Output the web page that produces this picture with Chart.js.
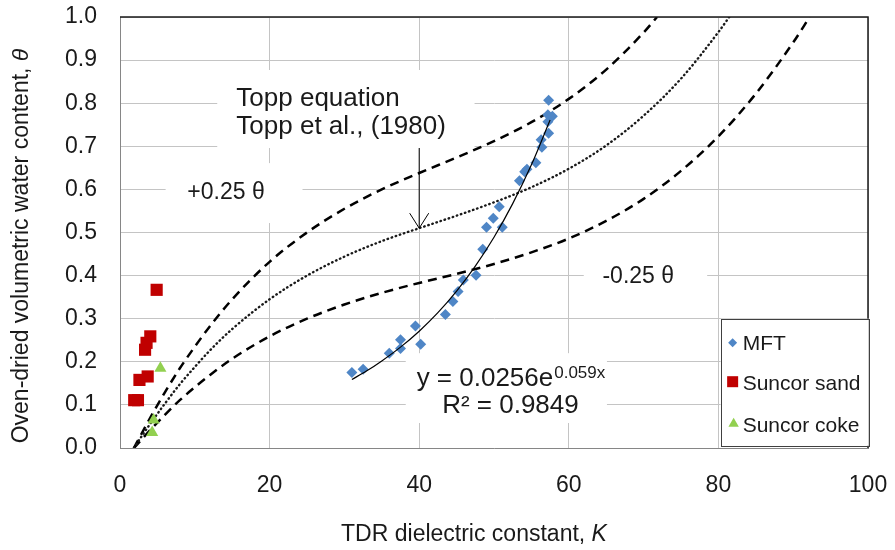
<!DOCTYPE html>
<html>
<head>
<meta charset="utf-8">
<script src="https://cdn.jsdelivr.net/npm/chart.js@4.4.1/dist/chart.umd.min.js"></script>
<style>
html,body{margin:0;padding:0;background:#fff;}
#wrap{width:895px;height:550px;position:relative;}
</style>
</head>
<body>
<div id="wrap"><canvas id="c" width="895" height="550"></canvas></div>
<script>
// ---------- data ----------
const xTickValues = [0, 20, 40, 60, 80, 100];
const xTickLabels = ['0', '20', '40', '60', '80', '100'];
const yTickValues = [0, 0.1, 0.2, 0.3, 0.4, 0.5, 0.6, 0.7, 0.8, 0.9, 1.0];
const yTickLabels = ['0.0', '0.1', '0.2', '0.3', '0.4', '0.5', '0.6', '0.7', '0.8', '0.9', '1.0'];

const seriesNames = ['MFT', 'Suncor sand', 'Suncor coke'];

const mftK     = [31.0, 32.5, 36.0, 37.5, 37.5, 39.5, 40.2, 43.5, 44.5, 45.2, 45.9, 47.6, 48.5, 49.0, 51.1, 49.9, 50.7, 53.4, 54.1, 54.4, 55.6, 56.4, 56.3, 57.3, 57.2, 57.2, 57.8, 57.3];
const mftTheta = [0.175, 0.183, 0.220, 0.231, 0.251, 0.283, 0.241, 0.310, 0.340, 0.363, 0.390, 0.401, 0.461, 0.512, 0.512, 0.533, 0.560, 0.620, 0.641, 0.647, 0.662, 0.698, 0.715, 0.730, 0.757, 0.773, 0.770, 0.807];

const sandK     = [1.9, 2.4, 2.6, 3.7, 3.35, 3.55, 4.05, 4.9];
const sandTheta = [0.111, 0.111, 0.158, 0.166, 0.228, 0.244, 0.259, 0.367];

const cokeK     = [4.3, 4.5, 5.4];
const cokeTheta = [0.036, 0.065, 0.185];

// Topp equation curve (dotted)
const toppK     = [1.86, 3, 4, 6, 8, 10, 12, 15, 20, 25, 30, 35, 40, 45, 50, 55, 60, 65, 70, 75, 80, 81.45];
const toppTheta = [0, 0.030, 0.055, 0.103, 0.148, 0.188, 0.226, 0.276, 0.345, 0.400, 0.444, 0.480, 0.510, 0.539, 0.570, 0.605, 0.648, 0.702, 0.771, 0.857, 0.965, 1.0];
// +0.25 theta band (dashed)
const upperK     = [1.86, 3, 4, 6, 8, 10, 12, 15, 20, 25, 30, 35, 40, 45, 50, 55, 60, 65, 70, 71.8];
const upperTheta = [0, 0.037, 0.069, 0.129, 0.185, 0.235, 0.282, 0.345, 0.432, 0.500, 0.555, 0.600, 0.638, 0.674, 0.712, 0.756, 0.810, 0.878, 0.964, 1.0];
// -0.25 theta band (dashed)
const lowerK     = [1.86, 3, 4, 6, 8, 10, 12, 15, 20, 25, 30, 35, 40, 45, 50, 55, 60, 65, 70, 75, 80, 85, 90, 92.2];
const lowerTheta = [0, 0.022, 0.041, 0.077, 0.111, 0.141, 0.169, 0.207, 0.259, 0.300, 0.333, 0.360, 0.383, 0.404, 0.427, 0.454, 0.486, 0.527, 0.578, 0.643, 0.723, 0.822, 0.941, 1.0];
// exponential trendline for MFT
const trendK     = [31, 33, 35, 37.5, 40, 42.5, 45, 47.5, 50, 52.5, 55, 57.5];
const trendTheta = [0.159, 0.179, 0.202, 0.234, 0.271, 0.314, 0.364, 0.422, 0.489, 0.567, 0.657, 0.761];

// ---------- helpers ----------
function pts(xs, ys) { return xs.map((v, i) => ({ x: v, y: ys[i] })); }
const FONT = "'Liberation Sans', Arial, sans-serif";
const TXT = '#1a1a1a';
const COLORS = { mft: '#4F86C6', sand: '#C00000', coke: '#92D050' };

// text-box backgrounds (in data units): [k0, k1, th0, th1]
const boxes = [
  [13.0, 47.4, 0.877, 0.696],
  [6.1, 24.4, 0.661, 0.522],
  [62.0, 78.5, 0.459, 0.339],
  [38.2, 65.1, 0.220, 0.058]
];

function diamond(ctx, x, y, r) { ctx.beginPath(); ctx.moveTo(x - r, y); ctx.lineTo(x, y - r); ctx.lineTo(x + r, y); ctx.lineTo(x, y + r); ctx.closePath(); ctx.fill(); }
function square(ctx, x, y, h) { ctx.fillRect(x - h, y - h, 2 * h, 2 * h); }
function triangle(ctx, x, y, r) { ctx.beginPath(); ctx.moveTo(x, y - r); ctx.lineTo(x + 0.866 * r, y + 0.5 * r); ctx.lineTo(x - 0.866 * r, y + 0.5 * r); ctx.closePath(); ctx.fill(); }

const deco = {
  id: 'deco',
  beforeDatasetsDraw(chart) {
    const { ctx, scales: { x, y } } = chart;
    ctx.save();
    ctx.fillStyle = '#fff';
    for (const b of boxes) {
      const x0 = x.getPixelForValue(b[0]), x1 = x.getPixelForValue(b[1]);
      const y0 = y.getPixelForValue(b[2]), y1 = y.getPixelForValue(b[3]);
      ctx.fillRect(Math.min(x0, x1), Math.min(y0, y1), Math.abs(x1 - x0), Math.abs(y1 - y0));
    }
    ctx.restore();
  },
  afterDatasetsDraw(chart) {
    const { ctx, chartArea: a, scales: { x, y } } = chart;
    ctx.save();
    ctx.fillStyle = TXT;
    ctx.textBaseline = 'alphabetic';
    ctx.textAlign = 'left';

    // Topp label
    ctx.font = '26px ' + FONT;
    ctx.fillText('Topp equation', x.getPixelForValue(15.55), y.getPixelForValue(0.793));
    ctx.fillText('Topp et al., (1980)', x.getPixelForValue(15.55), y.getPixelForValue(0.728));

    // band labels
    ctx.font = '23px ' + FONT;
    ctx.fillText('+0.25 \u03b8', x.getPixelForValue(9.0), y.getPixelForValue(0.578));
    ctx.fillText('-0.25 \u03b8', x.getPixelForValue(64.5), y.getPixelForValue(0.383));

    // arrow
    const ax = x.getPixelForValue(40);
    const ayTop = y.getPixelForValue(0.696), ayTip = y.getPixelForValue(0.510);
    ctx.strokeStyle = '#000';
    ctx.lineWidth = 1;
    ctx.beginPath();
    ctx.moveTo(ax, ayTop); ctx.lineTo(ax, ayTip);
    ctx.moveTo(ax - 9.5, ayTip - 15); ctx.lineTo(ax, ayTip); ctx.lineTo(ax + 9.5, ayTip - 15);
    ctx.stroke();

    // trendline equation
    const ex = x.getPixelForValue(52.2);
    ctx.font = '26px ' + FONT;
    const main = 'y = 0.0256e';
    const wMain = ctx.measureText(main).width;
    ctx.font = '17px ' + FONT;
    const sup = '0.059x';
    const wSup = ctx.measureText(sup).width;
    const startX = ex - (wMain + wSup) / 2;
    const b1 = y.getPixelForValue(0.144);
    ctx.font = '26px ' + FONT;
    ctx.fillText(main, startX, b1);
    ctx.font = '17px ' + FONT;
    ctx.fillText(sup, startX + wMain + 1, b1 - 8);
    ctx.font = '26px ' + FONT;
    ctx.textAlign = 'center';
    ctx.fillText('R\u00b2 = 0.9849', ex, y.getPixelForValue(0.081));

    // frame (top and right)
    ctx.strokeStyle = '#1a1a1a';
    ctx.lineWidth = 1.5;
    ctx.beginPath();
    ctx.moveTo(a.left, a.top); ctx.lineTo(a.right, a.top); ctx.lineTo(a.right, a.bottom);
    ctx.stroke();

    // legend
    const lx0 = x.getPixelForValue(80.3), lx1 = x.getPixelForValue(100.1);
    const ly0 = y.getPixelForValue(0.300), ly1 = y.getPixelForValue(0.005);
    ctx.fillStyle = '#fff';
    ctx.fillRect(lx0, ly0, lx1 - lx0, ly1 - ly0);
    ctx.strokeStyle = '#404040';
    ctx.lineWidth = 1;
    ctx.strokeRect(Math.round(lx0) + 0.5, Math.round(ly0) + 0.5, Math.round(lx1 - lx0), Math.round(ly1 - ly0));
    const mx = lx0 + 12, tx = lx0 + 22;
    const rows = [ly0 + 29, ly0 + 69, ly0 + 111];
    ctx.fillStyle = COLORS.mft; diamond(ctx, mx, rows[0] - 5, 4.5);
    ctx.fillStyle = COLORS.sand; square(ctx, mx, rows[1] - 6, 5.5);
    ctx.fillStyle = COLORS.coke; triangle(ctx, mx + 1, rows[2] - 6, 6);
    ctx.fillStyle = TXT;
    ctx.textAlign = 'left';
    ctx.font = '21px ' + FONT;
    seriesNames.forEach((n, i) => ctx.fillText(n, tx, rows[i] + 2));
    ctx.restore();
  },
  afterDraw(chart) {
    const { ctx, chartArea: a } = chart;
    ctx.save();
    ctx.fillStyle = TXT;
    ctx.textBaseline = 'middle';
    ctx.textAlign = 'left';
    // x title
    ctx.font = '23px ' + FONT;
    const t1 = 'TDR dielectric constant, ';
    const w1 = ctx.measureText(t1).width;
    ctx.font = 'italic 23px ' + FONT;
    const w2 = ctx.measureText('K').width;
    const cx = (a.left + a.right) / 2 - 20;
    ctx.font = '23px ' + FONT;
    ctx.fillText(t1, cx - (w1 + w2) / 2, 535);
    ctx.font = 'italic 23px ' + FONT;
    ctx.fillText('K', cx - (w1 + w2) / 2 + w1, 535);
    // y title
    ctx.translate(22, 246);
    ctx.rotate(-Math.PI / 2);
    ctx.font = '23px ' + FONT;
    const s1 = 'Oven-dried volumetric water content, ';
    const v1 = ctx.measureText(s1).width;
    ctx.font = 'italic 23px ' + FONT;
    const v2 = ctx.measureText('\u03b8').width;
    ctx.font = '23px ' + FONT;
    ctx.fillText(s1, -(v1 + v2) / 2, 0);
    ctx.font = 'italic 23px ' + FONT;
    ctx.fillText('\u03b8', -(v1 + v2) / 2 + v1, 0);
    ctx.restore();
  }
};

Chart.defaults.font.family = FONT;
Chart.defaults.color = TXT;

const lineBase = { showLine: true, pointRadius: 0, fill: false, cubicInterpolationMode: 'monotone', clip: 0 };

new Chart(document.getElementById('c'), {
  type: 'scatter',
  data: {
    datasets: [
      Object.assign({}, lineBase, { label: 'trend', data: pts(trendK, trendTheta), borderColor: '#000', borderWidth: 1.2 }),
      { label: seriesNames[0], data: pts(mftK, mftTheta), pointStyle: 'rectRot', pointRadius: 5.5, backgroundColor: COLORS.mft, borderWidth: 0 },
      { label: seriesNames[1], data: pts(sandK, sandTheta), pointStyle: 'rect', pointRadius: 8.6, backgroundColor: COLORS.sand, borderWidth: 0 },
      { label: seriesNames[2], data: pts(cokeK, cokeTheta), pointStyle: 'triangle', pointRadius: 7, backgroundColor: COLORS.coke, borderWidth: 0 },
      Object.assign({}, lineBase, { label: 'Topp', data: pts(toppK, toppTheta), borderColor: '#1a1a1a', borderWidth: 2.4, borderDash: [0.5, 3.8], borderCapStyle: 'round' }),
      Object.assign({}, lineBase, { label: '+0.25', data: pts(upperK, upperTheta), borderColor: '#000', borderWidth: 2.5, borderDash: [9, 6] }),
      Object.assign({}, lineBase, { label: '-0.25', data: pts(lowerK, lowerTheta), borderColor: '#000', borderWidth: 2.5, borderDash: [9, 6] })
    ]
  },
  options: {
    responsive: false,
    animation: false,
    events: [],
    layout: { padding: { left: 0, right: 27, top: 17, bottom: 0 } },
    plugins: { legend: { display: false }, tooltip: { enabled: false } },
    scales: {
      x: {
        type: 'linear', min: 0, max: 100,
        afterFit: s => { s.height = 102; s.paddingLeft = 0; s.paddingRight = 0; },
        afterBuildTicks: s => { s.ticks = xTickValues.map(v => ({ value: v })); },
        ticks: { font: { size: 23 }, color: TXT, padding: 24, callback: v => { const i = xTickValues.indexOf(v); return i >= 0 ? xTickLabels[i] : ''; } },
        grid: { color: '#c4c4c4', lineWidth: 1, drawTicks: false },
        border: { color: '#868686', width: 1 }
      },
      y: {
        type: 'linear', min: 0, max: 1,
        afterFit: s => { s.width = 120; s.paddingTop = 0; s.paddingBottom = 0; },
        afterBuildTicks: s => { s.ticks = yTickValues.map(v => ({ value: v })); },
        ticks: { font: { size: 23 }, color: TXT, padding: 23, callback: v => { const i = yTickValues.findIndex(t => Math.abs(t - v) < 1e-6); return i >= 0 ? yTickLabels[i] : ''; } },
        grid: { color: '#c4c4c4', lineWidth: 1, drawTicks: false },
        border: { color: '#868686', width: 1 }
      }
    }
  },
  plugins: [deco]
});
</script>
</body>
</html>
